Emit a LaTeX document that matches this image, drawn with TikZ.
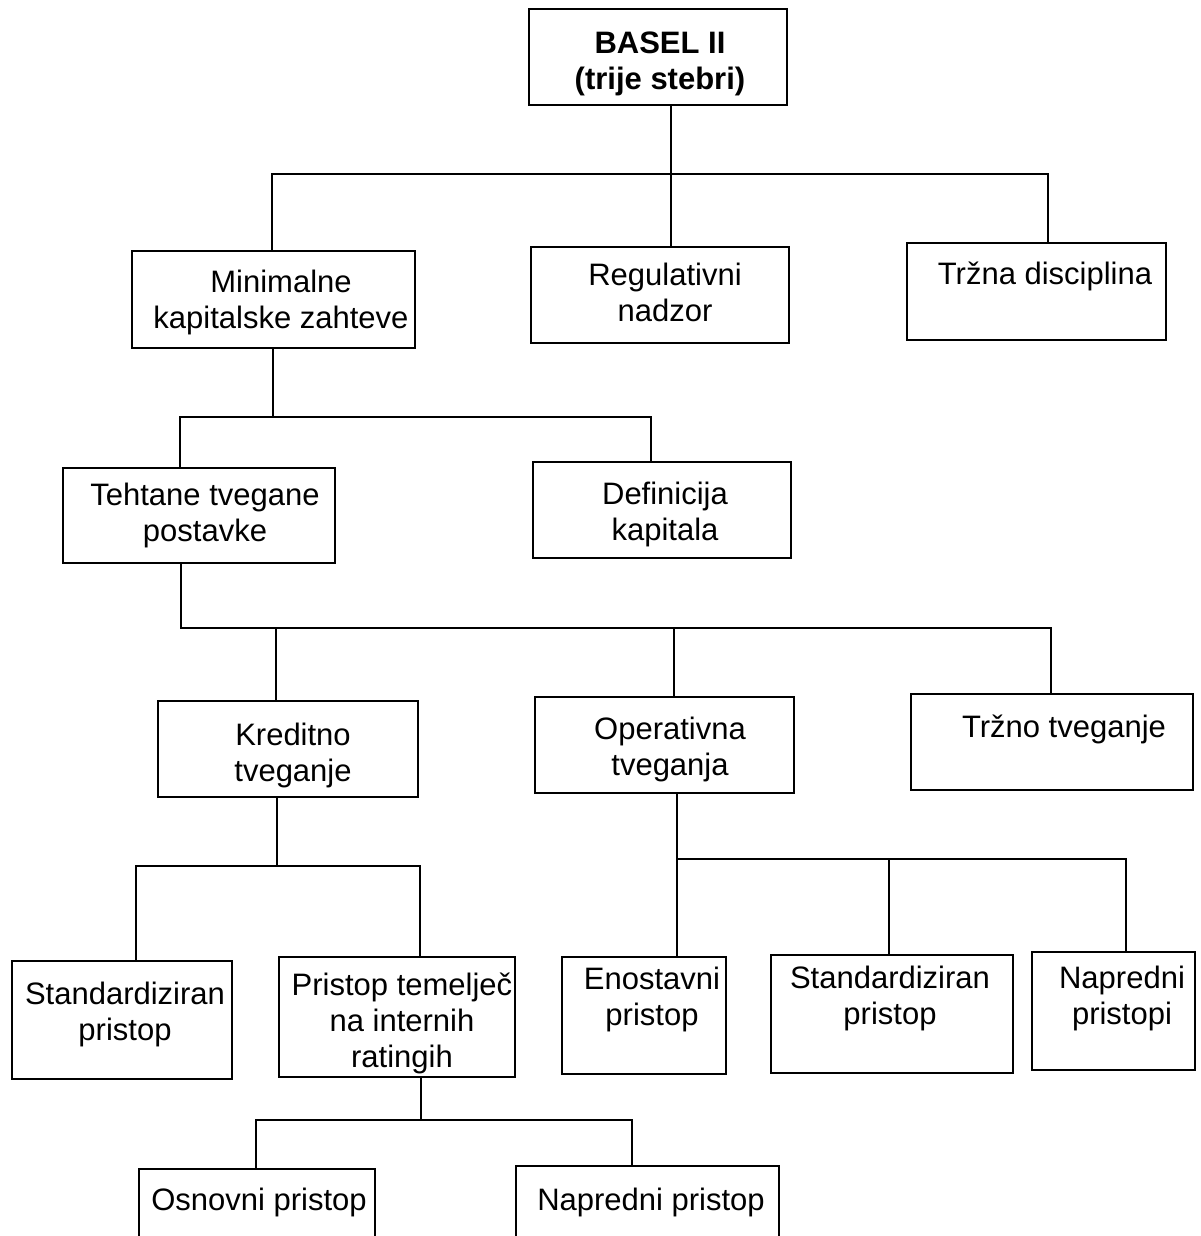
\documentclass[tikz,border=0pt]{standalone}
\usepackage{fontspec}
\setmainfont{Liberation Sans}
\usetikzlibrary{fit}
\begin{document}
\begin{tikzpicture}[x=0.5pt,y=-0.5pt,
  box/.style={draw=black, line width=1.1pt, inner sep=0pt, rectangle},
  txt/.style={inner sep=0pt, anchor=north, align=center, text=black,
    font=\fontsize{15.5pt}{18pt}\selectfont},
  conn/.style={draw=black, line width=1.1pt}]
\path[use as bounding box, fill=white] (0,0) rectangle (1200,1236);
\clip (0,0) rectangle (1200,1236);

% boxes
\node[box, fit={(529,9)(787,105)}] (basel) {};
\node[box, fit={(132,251)(415,348)}] (min) {};
\node[box, fit={(531,247)(789,343)}] (reg) {};
\node[box, fit={(907,243)(1166,340)}] (trz) {};
\node[box, fit={(63,468)(335,563)}] (teh) {};
\node[box, fit={(533,462)(791,558)}] (def) {};
\node[box, fit={(158,701)(418,797)}] (kre) {};
\node[box, fit={(535,697)(794,793)}] (ope) {};
\node[box, fit={(911,694)(1193,790)}] (trzt) {};
\node[box, fit={(12,961)(232,1079)}] (std1) {};
\node[box, fit={(279,957)(515,1077)}] (prt) {};
\node[box, fit={(562,957)(726,1074)}] (eno) {};
\node[box, fit={(771,955)(1013,1073)}] (std2) {};
\node[box, fit={(1032,952)(1195,1070)}] (nap) {};
\node[box, fit={(139,1169)(375,1260)}] (osn) {};
\node[box, fit={(516,1166)(779,1260)}] (napp) {};

% texts
\node[txt, font=\fontsize{15.5pt}{18pt}\selectfont\bfseries] (baselT) at (660,31) {BASEL II\\(trije stebri)};
\node[txt] (minT) at (281,270) {Minimalne\\kapitalske zahteve};
\node[txt] (regT) at (665,263) {Regulativni\\nadzor};
\node[txt] (trzT) at (1045,262) {Tržna disciplina};
\node[txt] (tehT) at (205,483) {Tehtane tvegane\\postavke};
\node[txt] (defT) at (665,482) {Definicija\\kapitala};
\node[txt] (kreT) at (293,723) {Kreditno\\tveganje};
\node[txt] (opeT) at (670,717) {Operativna\\tveganja};
\node[txt] (trztT) at (1064,715) {Tržno tveganje};
\node[txt] (std1T) at (125,982) {Standardiziran\\pristop};
\node[txt] (prtT) at (402,973) {Pristop temelječ\\na internih\\ratingih};
\node[txt] (enoT) at (652,967) {Enostavni\\pristop};
\node[txt] (std2T) at (890,966) {Standardiziran\\pristop};
\node[txt] (napT) at (1122,966) {Napredni\\pristopi};
\node[txt] (osnT) at (259,1188) {Osnovni pristop};
\node[txt] (nappT) at (651,1188) {Napredni pristop};

% group 1
\coordinate (j1) at (671,174);
\coordinate (b1l) at (272,174);
\coordinate (b1r) at (1048,174);
\draw[conn] (j1 |- basel.south) -- (j1 |- reg.north);
\draw[conn] (b1l |- min.north) -- (b1l) -- (b1r) -- (b1r |- trz.north);

% group 2
\coordinate (j2) at (273,417);
\coordinate (b2l) at (180,417);
\coordinate (b2r) at (651,417);
\draw[conn] (j2 |- min.south) -- (j2);
\draw[conn] (b2l |- teh.north) -- (b2l) -- (b2r) -- (b2r |- def.north);

% group 3
\coordinate (b3l) at (181,628);
\coordinate (b3r) at (1051,628);
\coordinate (k3) at (276,628);
\coordinate (o3) at (674,628);
\draw[conn] (b3l |- teh.south) -- (b3l) -- (b3r) -- (b3r |- trzt.north);
\draw[conn] (k3) -- (k3 |- kre.north);
\draw[conn] (o3) -- (o3 |- ope.north);

% group 4
\coordinate (j4) at (277,866);
\coordinate (b4l) at (136,866);
\coordinate (b4r) at (420,866);
\draw[conn] (j4 |- kre.south) -- (j4);
\draw[conn] (b4l |- std1.north) -- (b4l) -- (b4r) -- (b4r |- prt.north);

% group 5
\coordinate (b5l) at (677,859);
\coordinate (b5m) at (889,859);
\coordinate (b5r) at (1126,859);
\draw[conn] (b5l |- ope.south) -- (b5l |- eno.north);
\draw[conn] (b5l) -- (b5r) -- (b5r |- nap.north);
\draw[conn] (b5m) -- (b5m |- std2.north);

% group 6
\coordinate (j6) at (421,1120);
\coordinate (b6l) at (256,1120);
\coordinate (b6r) at (632,1120);
\draw[conn] (j6 |- prt.south) -- (j6);
\draw[conn] (b6l |- osn.north) -- (b6l) -- (b6r) -- (b6r |- napp.north);
\end{tikzpicture}
\end{document}
